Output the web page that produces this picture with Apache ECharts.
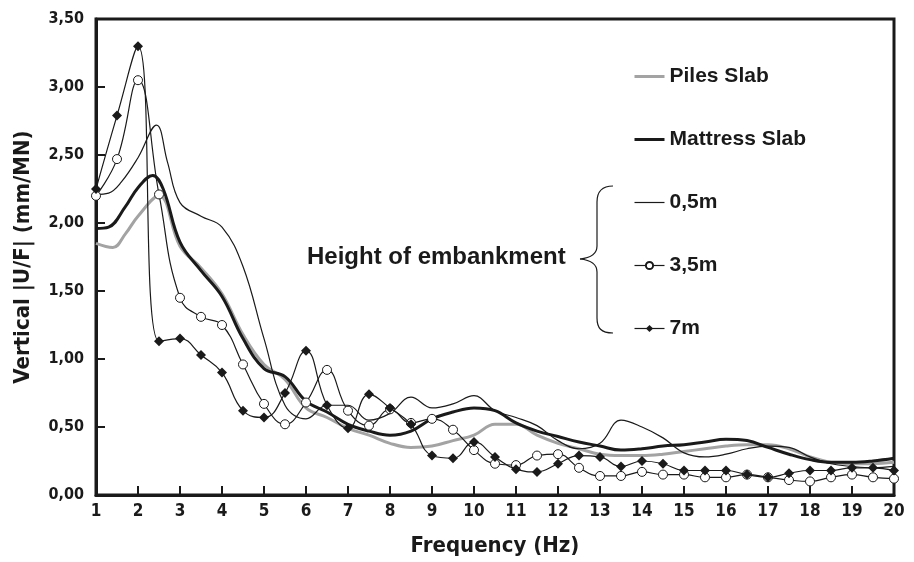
<!DOCTYPE html>
<html><head><meta charset="utf-8">
<script src="https://cdn.jsdelivr.net/npm/echarts@6/dist/echarts.min.js"></script>
<style>html,body{margin:0;padding:0;background:#fff}#c{width:914px;height:562px}</style>
</head><body><div id="c"></div>
<script>
// Frequency sampling (Hz) for the marked curves
var freqHalf = [1,1.5,2,2.5,3,3.5,4,4.5,5,5.5,6,6.5,7,7.5,8,8.5,9,9.5,10,10.5,11,11.5,12,12.5,13,13.5,14,14.5,15,15.5,16,16.5,17,17.5,18,18.5,19,19.5,20];
var h7m  = [2.25,2.79,3.30,1.13,1.15,1.03,0.90,0.62,0.57,0.75,1.06,0.66,0.49,0.74,0.64,0.52,0.29,0.27,0.39,0.28,0.19,0.17,0.23,0.29,0.28,0.21,0.25,0.23,0.18,0.18,0.18,0.15,0.13,0.16,0.18,0.18,0.20,0.20,0.18];
var h35m = [2.20,2.47,3.05,2.21,1.45,1.31,1.25,0.96,0.67,0.52,0.68,0.92,0.62,0.51,0.63,0.53,0.56,0.48,0.33,0.23,0.22,0.29,0.30,0.20,0.14,0.14,0.17,0.15,0.15,0.13,0.13,0.15,0.13,0.11,0.10,0.13,0.15,0.13,0.12];
// 0,5m curve
var freq05 = [1,1.3,1.6,2,2.44,2.7,3,3.5,4,4.5,5,5.5,6,6.5,7,7.5,8,8.5,9,9.5,10,10.5,11,11.5,12,12.5,13,13.5,14,14.5,15,15.5,16,16.5,17,17.5,18,18.5,19,19.5,20];
var h05m = [2.21,2.22,2.30,2.48,2.72,2.45,2.15,2.05,1.97,1.68,1.15,0.66,0.56,0.66,0.66,0.55,0.60,0.72,0.64,0.67,0.73,0.62,0.57,0.51,0.40,0.34,0.38,0.55,0.50,0.42,0.31,0.28,0.30,0.34,0.36,0.35,0.28,0.23,0.21,0.20,0.21];
// Mattress Slab curve
var freqMat = [1,1.3,1.7,2,2.35,2.6,3,3.5,4,4.5,5,5.5,6,6.5,7,7.5,8,8.5,9,9.5,10,10.5,11,11.5,12,12.5,13,13.5,14,14.5,15,15.5,16,16.5,17,17.5,18,18.5,19,19.5,20];
var mattress = [1.96,1.97,2.12,2.26,2.35,2.25,1.86,1.65,1.46,1.15,0.93,0.87,0.69,0.61,0.52,0.47,0.44,0.47,0.56,0.61,0.64,0.62,0.53,0.47,0.43,0.39,0.36,0.33,0.34,0.36,0.37,0.39,0.41,0.40,0.35,0.30,0.26,0.24,0.24,0.25,0.27];
// Piles Slab curve
var freqPil = [1,1.4,1.7,2,2.5,3,3.5,4,4.5,5,5.5,6,6.5,7,7.5,8,8.5,9,9.5,10,10.5,11,11.5,12,12.5,13,13.5,14,14.5,15,15.5,16,16.5,17,17.5,18,18.5,19,19.5,20];
var piles = [1.85,1.82,1.92,2.05,2.20,1.83,1.67,1.48,1.18,0.96,0.85,0.64,0.57,0.49,0.44,0.38,0.35,0.36,0.40,0.44,0.52,0.52,0.44,0.38,0.34,0.30,0.29,0.29,0.30,0.32,0.34,0.36,0.37,0.37,0.34,0.28,0.24,0.23,0.23,0.24];

var seriesNames = ['Piles Slab','Mattress Slab','0,5m','3,5m','7m'];
var axisTitles = {x:'Frequency (Hz)', y:'Vertical |U/F| (mm/MN)'};
var annotation = 'Height of embankment';

function pairs(xs, ys){ return xs.map(function(x,i){return [x, ys[i]];}); }

var narrow = '"Liberation Sans Narrow","DejaVu Sans Condensed","Liberation Sans",Arial,sans-serif';
var sans = '"Liberation Sans",Arial,sans-serif';
var ink = '#1a1a1a';
var grey = '#a3a3a3';
var braceStyle = {fill:null,stroke:ink,lineWidth:1.2};

var chart = echarts.init(document.getElementById('c'), null, {renderer:'canvas'});
chart.setOption({
  animation:false,
  backgroundColor:'#fff',
  grid:{left:96,right:20,top:19,bottom:66,show:true,borderColor:ink,borderWidth:3,backgroundColor:'transparent'},
  xAxis:{type:'value',min:1,max:20,interval:1,
    name:axisTitles.x,nameLocation:'middle',nameGap:40,
    nameTextStyle:{fontFamily:narrow,fontWeight:'bold',fontSize:22,color:ink},
    axisLine:{lineStyle:{color:ink,width:3}},
    axisTick:{inside:true,length:9,lineStyle:{color:ink,width:2}},
    axisLabel:{fontFamily:narrow,fontWeight:'bold',fontSize:17,color:ink,margin:8},
    splitLine:{show:false}},
  yAxis:{type:'value',min:0,max:3.5,interval:0.5,
    name:axisTitles.y,nameLocation:'middle',nameGap:62,
    nameTextStyle:{fontFamily:narrow,fontWeight:'bold',fontSize:22,color:ink},
    axisLine:{lineStyle:{color:ink,width:3}},
    axisTick:{inside:true,length:9,lineStyle:{color:ink,width:2}},
    axisLabel:{fontFamily:narrow,fontWeight:'bold',fontSize:16,color:ink,margin:12,
      formatter:function(v){return v.toFixed(2).replace('.',',');}},
    splitLine:{show:false}},
  legend:{orient:'vertical',left:628,top:61,itemGap:42,itemWidth:30,itemHeight:9,
    data:[
      {name:seriesNames[0],itemStyle:{opacity:0},lineStyle:{width:3,color:grey}},
      {name:seriesNames[1],itemStyle:{opacity:0},lineStyle:{width:3,color:ink}},
      {name:seriesNames[2],itemStyle:{opacity:0},lineStyle:{width:1.2,color:ink}},
      {name:seriesNames[3],lineStyle:{width:1.2,color:ink}},
      {name:seriesNames[4],lineStyle:{width:1.2,color:ink}}
    ],
    textStyle:{fontFamily:sans,fontWeight:'bold',fontSize:21,color:ink}},
  graphic:[
    {type:'bezierCurve',shape:{x1:613,y1:186,x2:597,y2:202,cpx1:601,cpy1:186,cpx2:597,cpy2:192},style:braceStyle},
    {type:'line',shape:{x1:597,y1:202,x2:597,y2:246},style:braceStyle},
    {type:'bezierCurve',shape:{x1:597,y1:246,x2:580,y2:259,cpx1:597,cpy1:255,cpx2:590,cpy2:258},style:braceStyle},
    {type:'bezierCurve',shape:{x1:580,y1:259,x2:597,y2:272,cpx1:590,cpy1:260,cpx2:597,cpy2:263},style:braceStyle},
    {type:'line',shape:{x1:597,y1:272,x2:597,y2:318},style:braceStyle},
    {type:'bezierCurve',shape:{x1:597,y1:318,x2:613,y2:333,cpx1:597,cpy1:328,cpx2:601,cpy2:333},style:braceStyle},
    {type:'text',left:307,top:245,style:{text:annotation,fontFamily:sans,fontWeight:'bold',fontSize:24,fill:ink}}
  ],
  series:[
    {name:seriesNames[0],type:'line',data:pairs(freqPil,piles),smooth:0.4,showSymbol:false,symbol:'none',
      lineStyle:{color:grey,width:3},itemStyle:{color:grey},z:2},
    {name:seriesNames[1],type:'line',data:pairs(freqMat,mattress),smooth:0.4,showSymbol:false,symbol:'none',
      lineStyle:{color:ink,width:3},itemStyle:{color:ink},z:3},
    {name:seriesNames[2],type:'line',data:pairs(freq05,h05m),smooth:0.4,showSymbol:false,symbol:'none',
      lineStyle:{color:ink,width:1.2},itemStyle:{color:ink},z:4},
    {name:seriesNames[3],type:'line',data:pairs(freqHalf,h35m),smooth:0.45,symbol:'circle',symbolSize:9,
      lineStyle:{color:ink,width:1.2},itemStyle:{color:'#fff',borderColor:ink,borderWidth:1},z:5},
    {name:seriesNames[4],type:'line',data:pairs(freqHalf,h7m),smooth:0.45,symbol:'diamond',symbolSize:10,
      lineStyle:{color:ink,width:1.2},itemStyle:{color:ink},z:6}
  ]
});
</script></body></html>
